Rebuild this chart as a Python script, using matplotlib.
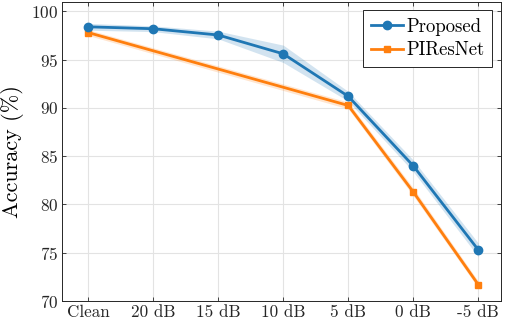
import matplotlib
matplotlib.use('Agg')
import matplotlib.pyplot as plt
import numpy as np

plt.rcParams['font.family'] = 'serif'
plt.rcParams['font.serif'] = ['cmr10']
plt.rcParams['mathtext.fontset'] = 'cm'
plt.rcParams['axes.unicode_minus'] = False
plt.rcParams['axes.formatter.use_mathtext'] = True

# data
snrLabels = ['Clean', '20 dB', '15 dB', '10 dB', '5 dB', '0 dB', '-5 dB']

proposedIdx = [0, 1, 2, 3, 4, 5, 6]
proposedAcc = [98.4, 98.2, 97.55, 95.6, 91.2, 84.0, 75.3]
proposedStd = [0.35, 0.3, 0.4, 0.9, 0.5, 0.6, 0.7]

piresnetIdx = [0, 4, 5, 6]
piresnetAcc = [97.8, 90.25, 81.3, 71.7]
piresnetStd = [0.3, 0.35, 0.4, 0.35]

blue = '#1f77b4'
orange = '#ff7f0e'

fig = plt.figure(figsize=(5.06, 3.22), dpi=100)
ax = fig.add_axes([0.1231, 0.0652, 0.8664, 0.9295])

# PIResNet first so the Proposed markers sit on top
pIdx = np.array(piresnetIdx)
pAcc = np.array(piresnetAcc)
pStd = np.array(piresnetStd)
ax.fill_between(pIdx, pAcc - pStd, pAcc + pStd, color=orange, alpha=0.2,
                linewidth=0, zorder=2)
lineP, = ax.plot(pIdx, pAcc, color=orange, linewidth=2, marker='s',
                 markersize=5, label='PIResNet', zorder=3)

qIdx = np.array(proposedIdx)
qAcc = np.array(proposedAcc)
qStd = np.array(proposedStd)
ax.fill_between(qIdx, qAcc - qStd, qAcc + qStd, color=blue, alpha=0.2,
                linewidth=0, zorder=2)
lineQ, = ax.plot(qIdx, qAcc, color=blue, linewidth=2, marker='o',
                 markersize=6, label='Proposed', zorder=4)

ax.set_xlim(-0.4, 6.345)
ax.set_ylim(70, 101)
ax.set_xticks(range(len(snrLabels)))
ax.set_xticklabels(snrLabels)
ax.set_yticks([70, 75, 80, 85, 90, 95, 100])
ax.set_ylabel('Accuracy (%)', fontsize=16, labelpad=5)

ax.grid(True, color='#e3e3e3', linewidth=0.8, zorder=0)
ax.set_axisbelow(True)
ax.tick_params(direction='in', length=3, width=0.6, labelsize=12.3,
               top=True, right=True, colors='#262626', pad=3)
for s in ax.spines.values():
    s.set_color('#262626')
    s.set_linewidth(0.7)

leg = ax.legend(handles=[lineQ, lineP], loc='upper right', fontsize=13.5,
                fancybox=False, framealpha=1, edgecolor='#262626',
                handlelength=1.7, handletextpad=0.2, borderpad=0.4,
                labelspacing=0.3, borderaxespad=0.45)
leg.get_frame().set_linewidth(0.7)

fig.savefig('out.png', dpi=100)
